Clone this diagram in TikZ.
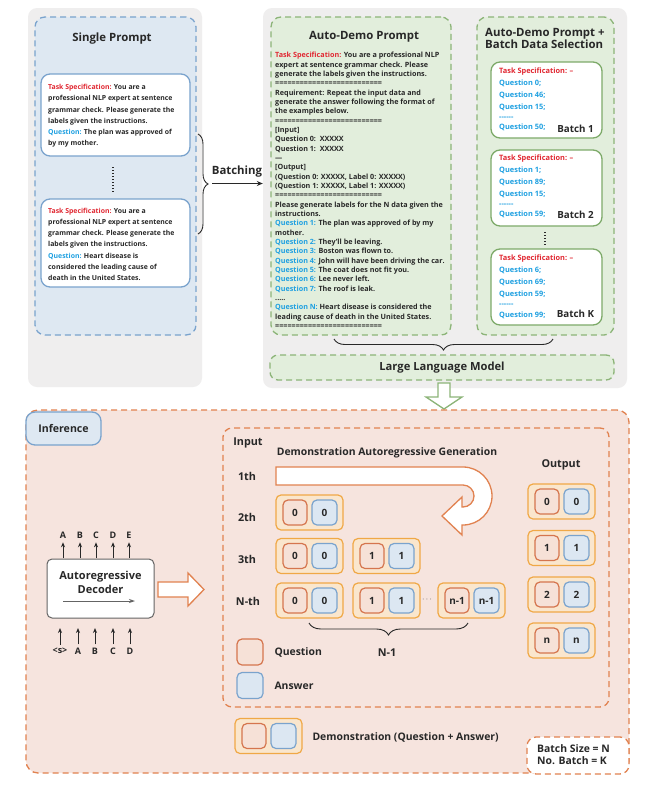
\documentclass[tikz,border=0pt]{standalone}
\usepackage{fontspec}
\setmainfont{Open Sans}
\usetikzlibrary{decorations.pathreplacing,arrows.meta,calc}
\definecolor{panel}{RGB}{239,238,238}
\definecolor{bluefill}{RGB}{222,232,242}
\definecolor{blueline}{RGB}{122,163,205}
\definecolor{greenfill}{RGB}{226,238,220}
\definecolor{greenline}{RGB}{140,180,120}
\definecolor{batchline}{RGB}{125,170,105}
\definecolor{pinkfill}{RGB}{246,228,222}
\definecolor{oline}{RGB}{225,130,80}
\definecolor{dline}{RGB}{240,168,70}
\definecolor{dfill}{RGB}{250,230,205}
\definecolor{qline}{RGB}{213,117,78}
\definecolor{qfill}{RGB}{246,225,215}
\definecolor{afill}{RGB}{220,231,242}
\definecolor{aline}{RGB}{122,163,205}
\definecolor{txt}{RGB}{40,40,40}
\definecolor{tred}{RGB}{225,40,50}
\definecolor{tcyan}{RGB}{30,160,225}
\definecolor{decline}{RGB}{100,100,100}
\newcommand\myfs[2]{\fontsize{#1}{#2}\selectfont}
\newcommand\rd[1]{\textcolor{tred}{#1}}
\newcommand\cy[1]{\textcolor{tcyan}{#1}}
\newcommand\dsh{\mbox{-}\mbox{-}\mbox{-}\mbox{-}\mbox{-}\mbox{-}}
\newcommand\eqline{==========================}
\newcommand\demobox[5]{%
  \node[demo] (#1) at (#2+33.5,#3) {};
  \node[qbox] (#1q) at (#2+19,#3) {#4};
  \node[abox] (#1a) at (#2+48.5,#3) {#5};
}
\begin{document}
\begin{tikzpicture}[x=1pt,y=1pt,yscale=-1,
  every node/.style={text=txt,font=\bfseries},
  panelbox/.style={fill=panel,draw=none,rounded corners=9pt},
  dashln/.style={line width=1.3pt,dash pattern=on 6pt off 4pt},
  bluedash/.style={fill=bluefill,draw=blueline,dashln,rounded corners=10pt},
  greendash/.style={fill=greenfill,draw=greenline,dashln,rounded corners=10pt},
  promptbox/.style={fill=white,draw=blueline,line width=1.3pt,rounded corners=9pt},
  batchbox/.style={fill=white,draw=batchline,line width=1.3pt,rounded corners=9pt},
  orangedash/.style={draw=oline,dashln,rounded corners=12pt},
  demo/.style={draw=dline,fill=dfill,line width=1.2pt,rounded corners=5pt,minimum width=67pt,minimum height=35pt,inner sep=0pt},
  qbox/.style={draw=qline,fill=qfill,line width=1.2pt,rounded corners=5pt,minimum width=24pt,minimum height=25pt,inner sep=0pt,font=\bfseries\myfs{10}{11}},
  abox/.style={draw=aline,fill=afill,line width=1.2pt,rounded corners=5pt,minimum width=25pt,minimum height=25pt,inner sep=0pt,font=\bfseries\myfs{10}{11}},
  txtblock/.style={anchor=north west,inner sep=0pt,align=left},
  mybrace/.style={decorate,decoration={brace,amplitude=#1},draw=txt,line width=0.9pt},
  upar/.style={-{Stealth[length=5pt,width=4pt]},draw=txt,line width=0.8pt},
  title/.style={font=\bfseries\myfs{11.4}{13}},
  lbl/.style={font=\bfseries\myfs{10.8}{12}},
  leg/.style={font=\bfseries\myfs{10.4}{12}},
  dotcol/.style={draw=txt,line width=1.3pt,dash pattern=on 1.2pt off 1.8pt},
]
\useasboundingbox (0,0) rectangle (649,788);
\fill[white] (0,0) rectangle (649,788);

% ================= top: single prompt =================
\node[panelbox,minimum width=174pt,minimum height=379pt] (p1) at (115,197.5) {};
\node[bluedash,minimum width=161pt,minimum height=318pt] (sp) at (115.5,176) {};
\node[title] (sptitle) at (112,39) {Single Prompt};
\node[promptbox,minimum width=149pt,minimum height=82pt] (b1) at (115.5,115) {};
\node[promptbox,minimum width=149pt,minimum height=88pt] (b2) at (115.5,243) {};
\node[txtblock,font=\bfseries\myfs{6.9}{11.2}] (b1t) at (48,84.2) {%
\rd{Task Specification:} You are a\\
professional NLP expert at sentence\\
grammar check. Please generate the\\
labels given the instructions.\\
\cy{Question:} The plan was approved of\\
by my mother.};
\node[txtblock,font=\bfseries\myfs{6.9}{11.1}] (b2t) at (48,208.2) {%
\rd{Task Specification:} You are a\\
professional NLP expert at sentence\\
grammar check. Please generate the\\
labels given the instructions.\\
\cy{Question:} Heart disease is\\
considered the leading cause of\\
death in the United States.};
\draw[dotcol] (113,167) -- (113,192);

% batching
\draw[mybrace=10] (198,134) -- (198,234);
\coordinate (bt) at (212,183.5);
\node[title,anchor=south] (batching) at (237,181) {Batching};

% ================= top: auto-demo =================
\node[panelbox,minimum width=364pt,minimum height=380pt] (p2) at (445,198) {};
\draw[-{Stealth[length=6pt,width=5pt]},draw=txt,line width=0.9pt] (bt) -- (bt -| p2.west);
\node[greendash,minimum width=180pt,minimum height=318pt] (ad) at (361,176) {};
\node[title] (adtitle) at (364,37) {Auto-Demo Prompt};
\node[txtblock,font=\bfseries\myfs{7.2}{9.34}] (adt) at (275,52.1) {%
\rd{Task Specification:} You are a professional NLP\\
expert at sentence grammar check. Please\\
generate the labels given the instructions.\\
\eqline\\
Requirement: Repeat the input data and\\
generate the answer following the format of\\
the examples below.\\
\eqline\\
{[}Input{]}\\
Question 0:\ \ XXXXX\\
Question 1:\ \ XXXXX\\
---\\
{[}Output{]}\\
(Question 0: XXXXX, Label 0: XXXXX)\\
(Question 1: XXXXX, Label 1: XXXXX)\\
\eqline\\
Please generate labels for the N data given the\\
instructions.\\
\cy{Question 1:} The plan was approved of by my\\
mother.\\
\cy{Question 2:} They'll be leaving.\\
\cy{Question 3:} Boston was flown to.\\
\cy{Question 4:} John will have been driving the car.\\
\cy{Question 5:} The coat does not fit you.\\
\cy{Question 6:} Lee never left.\\
\cy{Question 7:} The roof is leak.\\
.....\\
\cy{Question N:} Heart disease is considered the\\
leading cause of death in the United States.\\
\eqline};

% batch data selection
\node[greendash,minimum width=137pt,minimum height=318pt] (bd) at (545.5,176) {};
\node[txtblock,font=\bfseries\myfs{11.4}{12}] (bdtitle) at (485,28.4) {Auto-Demo Prompt +\\Batch Data Selection};
\node[batchbox,minimum width=111pt,minimum height=76pt] (k1) at (546.5,100) {};
\node[batchbox,minimum width=111pt,minimum height=76pt] (k2) at (546.5,188) {};
\node[batchbox,minimum width=111pt,minimum height=76pt] (k3) at (546.5,287) {};
\draw[dotcol] (545,232) -- (545,245);
\node[txtblock,font=\bfseries\myfs{7.4}{12}] (k1t) at (499,68) {%
\rd{Task Specification: \textendash}\\ \cy{Question 0;}\\ \cy{Question 46;}\\ \cy{Question 15;}\\[-2pt] \cy{\dsh}\\[-2pt] \cy{Question 50;}};
\node[txtblock,font=\bfseries\myfs{7.4}{12}] (k2t) at (499,155) {%
\rd{Task Specification: \textendash}\\ \cy{Question 1;}\\ \cy{Question 89;}\\ \cy{Question 15;}\\[-2pt] \cy{\dsh}\\[-2pt] \cy{Question 59;}};
\node[txtblock,font=\bfseries\myfs{7.4}{12}] (k3t) at (499,255) {%
\rd{Task Specification: \textendash}\\ \cy{Question 6;}\\ \cy{Question 69;}\\ \cy{Question 59;}\\[-2pt] \cy{\dsh}\\[-1pt] \cy{Question 99;}};
\node[font=\bfseries\myfs{9.8}{11}] (k1l) at (575.5,129) {Batch 1};
\node[font=\bfseries\myfs{9.8}{11}] (k2l) at (575.5,215) {Batch 2};
\node[font=\bfseries\myfs{9.8}{11}] (k3l) at (575.5,314) {Batch K};

% LLM
\draw[mybrace=11] (553,339) -- (334,339);
\node[greendash,rounded corners=8pt,minimum width=344pt,minimum height=25pt,font=\bfseries\myfs{11.2}{13}] (llm) at (442,367.5) {Large Language Model};
\draw[draw=greenline,fill=white,line width=1.3pt,line join=miter] (438,383) -- (450,383) -- (450,397) -- (462,397) -- (444,409) -- (426,397) -- (438,397) -- cycle;

% ================= bottom: inference =================
\node[orangedash,fill=pinkfill,minimum width=603pt,minimum height=363pt] (inf) at (327.5,591.5) {};
\node[fill=bluefill,draw=blueline,line width=1.3pt,rounded corners=9pt,minimum width=75pt,minimum height=33pt,font=\bfseries\myfs{10.6}{12}] (inflabel) at (63.5,428.5) {Inference};
\node[orangedash,rounded corners=9pt,minimum width=386pt,minimum height=279pt] (inner) at (416,567.5) {};

\node[lbl] (input) at (248,443) {Input};
\node[font=\bfseries\myfs{10.4}{12}] (dag) at (387,453) {Demonstration Autoregressive Generation};
\node[lbl] (r1) at (247,476) {1th};
\node[lbl] (r2) at (247,517) {2th};
\node[lbl] (r3) at (247,559) {3th};
\node[lbl] (rn) at (248,601) {N-th};

% U-turn arrow
\draw[draw=oline,fill=white,line width=1.3pt,line join=miter]
  (276,467) -- (463,467) arc[start angle=-90,end angle=90,radius=29]
  -- (462,525) -- (462,535) -- (442,516) -- (462,497) -- (462,507) -- (463,507)
  arc[start angle=90,end angle=-90,radius=11] -- (276,485) -- cycle;

\demobox{d21}{276}{512.5}{0}{0}
\demobox{d31}{276}{556}{0}{0}
\demobox{d32}{353}{556}{1}{1}
\demobox{dn1}{276}{600.5}{0}{0}
\demobox{dn2}{353}{600.5}{1}{1}
\demobox{dn3}{438}{600.5}{n-1}{n-1}
\node[font=\bfseries\myfs{8}{10}] (dots) at (427,600) {$\cdots$};
\draw[mybrace=12] (468,623) -- (309,623);
\node[lbl] (nm1) at (387,653) {N-1};

\node[lbl] (output) at (561,465) {Output};
\demobox{o1}{528}{501.5}{0}{0}
\demobox{o2}{528}{548}{1}{1}
\demobox{o3}{528}{594.5}{2}{2}
\demobox{o4}{528}{640.5}{n}{n}

% legend
\node[qbox,minimum width=26pt,minimum height=26pt] (lq) at (250,652) {};
\node[leg,anchor=west] (lqt) at (271,652) {Question};
\node[abox,minimum width=26pt,minimum height=26pt] (la) at (250,685.5) {};
\node[leg,anchor=west] (lat) at (271,686) {Answer};
\demobox{ld}{235}{736}{}{}
\node[leg,anchor=west] (ldt) at (309,737) {Demonstration (Question + Answer)};

% batch info
\node[fill=white,draw=oline,dashln,rounded corners=9pt,minimum width=102pt,minimum height=37pt] (binfo) at (578,755.5) {};
\node[txtblock,font=\bfseries\myfs{10.4}{12}] (binfot) at (537,744.5) {Batch Size = N\\No. Batch = K};

% decoder
\node[fill=white,draw=decline,line width=1pt,rounded corners=5pt,minimum width=107pt,minimum height=59pt] (dec) at (100.5,588.5) {};
\node[font=\bfseries\myfs{11}{14},align=center] (dect) at (100.5,582) {Autoregressive\\Decoder};
\coordinate (da) at (63,601);
\coordinate (db) at (135,601);
\draw[-{Stealth[length=6pt,width=4pt]},draw=decline,line width=1pt] (da) -- (db);
\foreach \x/\l [count=\i] in {63/A,80/B,96/C,113/D,129/E}{
  \node[font=\bfseries\myfs{9}{10}] (top\i) at (\x,535.5) {\l};
  \draw[upar] (\x,558) -- (top\i.south);
}
\foreach \x/\l [count=\i] in {60/{\textless s\textgreater},78/A,95/B,113/C,130/D}{
  \node[font=\bfseries\myfs{9}{10}] (bot\i) at (\x,651) {\l};
  \draw[upar] (bot\i.north) -- (\x,628);
}
\draw[draw=oline,fill=white,line width=1.3pt,line join=miter] (158,582) -- (188,582) -- (188,573) -- (204,589.5) -- (188,606) -- (188,597) -- (158,597) -- cycle;
\end{tikzpicture}
\end{document}
